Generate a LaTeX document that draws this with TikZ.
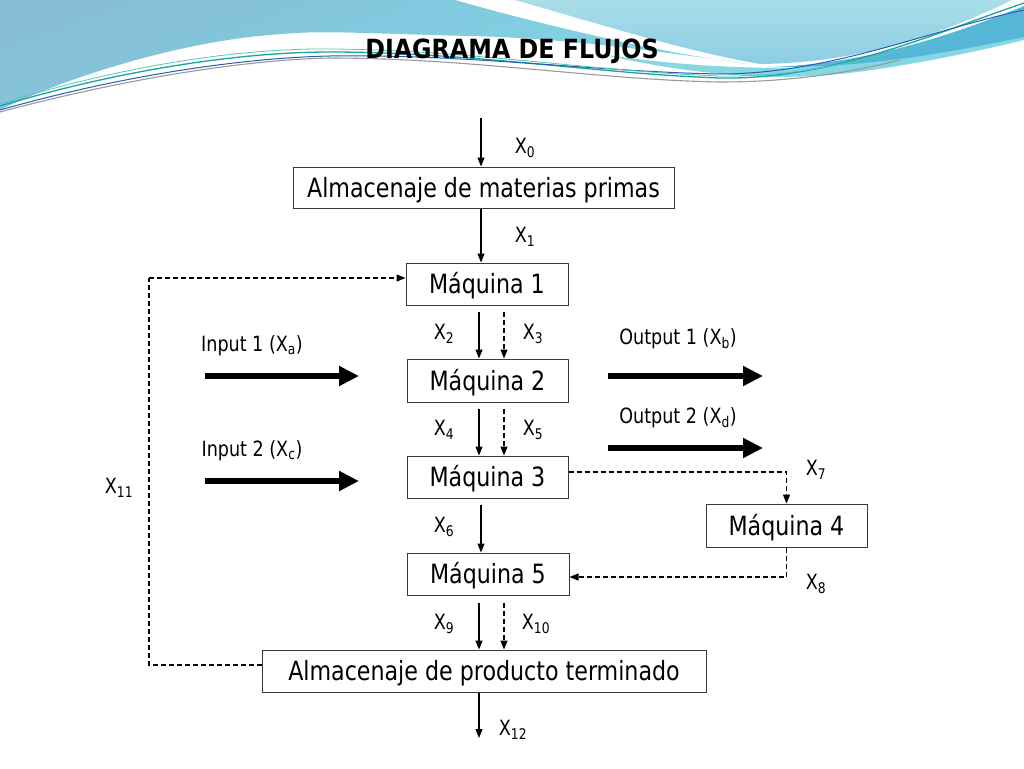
\documentclass[tikz,border=0pt]{standalone}
\usepackage{fontspec}
\setmainfont{DejaVu Sans Condensed}[FakeStretch=0.93]
\newfontfamily\titlef{DejaVu Sans Condensed}
\usetikzlibrary{arrows.meta,calc}
\definecolor{bannerA}{HTML}{86BED7}
\definecolor{bannerAl}{HTML}{7ED8E8}
\definecolor{bannerC}{HTML}{A9DEE7}
\definecolor{bannerCd}{HTML}{8CCDE6}
\definecolor{bannerF}{HTML}{55B6D8}
\definecolor{bannerFl}{HTML}{86D6E4}
\definecolor{lteal}{HTML}{16A89C}
\definecolor{lblue}{HTML}{2A5DB0}
\definecolor{lgray}{HTML}{9A9A9A}
\definecolor{boxline}{HTML}{3A3A3A}
\tikzset{
  box/.style={draw=boxline,line width=1pt,inner sep=0pt,text height=19.5pt,text depth=0pt,font=\fontsize{26.5}{30}\selectfont,text=black},
  xlab/.style={inner sep=0pt,font=\fontsize{21}{24}\selectfont},
  iolab/.style={inner sep=0pt,font=\fontsize{21}{24}\selectfont},
  flow/.style={line width=1.2pt,-{Triangle[length=9pt,width=7pt]}},
  dashline/.style={line width=1.2pt,dash pattern=on 5pt off 3pt},
  dflow/.style={dashline,-{Triangle[length=9pt,width=7pt]}},
  big/.style={line width=6pt,-{Triangle[length=20pt,width=19pt]}},
  titlefont/.style={inner sep=0pt,font=\titlef\fontsize{26.4}{30}\selectfont\bfseries}
}
\newcommand{\Xs}[1]{X\textsubscript{#1}}
\begin{document}
\begin{tikzpicture}[x=1pt,y=-1pt]
\useasboundingbox (0,0) rectangle (1024,768);
\fill[white] (0,0) rectangle (1024,768);
% ---- banner ----
\shade[top color=bannerA,bottom color=bannerAl,shading angle=20]
  (0,0) -- (455,0) .. controls (560,30) and (680,56) .. (748,64)
  .. controls (650,50) and (560,38) .. (470,36)
  .. controls (380,34) and (320,30) .. (283,34)
  .. controls (180,40) and (60,80) .. (0,110) -- cycle;
\shade[top color=bannerC,bottom color=bannerCd]
  (515,0) -- (1012,0) .. controls (930,40) and (850,63) .. (760,64)
  .. controls (680,50) and (600,24) .. (515,0) -- cycle;
\fill[bannerFl]
  (600,54) .. controls (680,66) and (740,68) .. (790,68)
  .. controls (870,60) and (950,45) .. (1024,30) -- (1024,40)
  .. controls (950,58) and (880,70) .. (840,74)
  .. controls (760,82) and (680,72) .. (600,54) -- cycle;
\fill[bannerF]
  (1024,6) .. controls (940,40) and (860,64) .. (770,67)
  .. controls (870,68) and (950,52) .. (1024,37) -- cycle;
\draw[lteal,line width=1.3pt]
  (0,106) .. controls (120,70) and (240,52) .. (330,52)
  .. controls (470,52) and (600,74) .. (720,78)
  .. controls (830,80) and (930,35) .. (1024,3);
\draw[lblue,line width=1pt]
  (0,110) .. controls (120,76) and (240,58) .. (330,56)
  .. controls (470,54) and (600,72) .. (720,74)
  .. controls (830,74) and (930,30) .. (1024,10);
\draw[lteal!70!white,line width=0.8pt]
  (0,104) .. controls (120,66) and (240,48) .. (330,49)
  .. controls (470,50) and (600,72) .. (720,76)
  .. controls (830,78) and (930,40) .. (1024,18);
\draw[lgray,line width=1.1pt]
  (0,112) .. controls (120,80) and (240,60) .. (330,58)
  .. controls (470,58) and (600,80) .. (720,82)
  .. controls (800,82) and (860,70) .. (900,60);
% ---- title ----
\node[titlefont] (title) at (512,51) {DIAGRAMA DE FLUJOS};
% ---- boxes ----
\node[box,minimum width=381pt,minimum height=41pt] (A1) at (483.5,187.5) {Almacenaje de materias primas};
\node[box,minimum width=162pt,minimum height=42pt] (M1) at (487,284) {Máquina 1};
\node[box,minimum width=161pt,minimum height=43pt] (M2) at (487.5,380.5) {Máquina 2};
\node[box,minimum width=161pt,minimum height=42pt] (M3) at (487.5,477) {Máquina 3};
\node[box,minimum width=161pt,minimum height=43pt] (M4) at (786.5,525.5) {Máquina 4};
\node[box,minimum width=162pt,minimum height=42pt] (M5) at (488,574) {Máquina 5};
\node[box,minimum width=444pt,minimum height=42pt] (A2) at (484,671) {Almacenaje de producto terminado};
% ---- columns ----
\coordinate (cA) at (481,0);
\coordinate (cS) at (479,0);
\coordinate (cD) at (504,0);
\coordinate (in0) at (481,118);
\coordinate (out12) at (479,738);
\coordinate (fb) at (149,278);
% ---- vertical flows ----
\draw[flow] (in0) -- (cA |- A1.north);
\draw[flow] (cA |- A1.south) -- (cA |- M1.north);
\draw[flow] ($(cS |- M1.south)+(0,6)$) -- (cS |- M2.north);
\draw[dflow] ($(cD |- M1.south)+(0,6)$) -- (cD |- M2.north);
\draw[flow] ($(cS |- M2.south)+(0,6)$) -- (cS |- M3.north);
\draw[dflow] ($(cD |- M2.south)+(0,6)$) -- (cD |- M3.north);
\draw[flow] ($(cA |- M3.south)+(0,6)$) -- (cA |- M5.north);
\draw[flow] ($(cS |- M5.south)+(0,7)$) -- (cS |- A2.north);
\draw[dflow] ($(cD |- M5.south)+(0,7)$) -- (cD |- A2.north);
\draw[flow] (cS |- A2.south) -- (out12);
% ---- side dashed flows ----
\draw[dflow] ([yshift=5pt]M3.east) -| (M4.north);
\draw[dflow] (M4.south) |- ([yshift=-3pt]M5.east);
\draw[dashline] ([yshift=6pt]A2.west) -| (fb);
\draw[dflow] (fb) -- ([yshift=6pt]M1.west);
% ---- thick arrows ----
\coordinate (i1s) at (205,376); \coordinate (i1e) at (359,376);
\coordinate (i2s) at (205,481); \coordinate (i2e) at (359,481);
\coordinate (o1s) at (608,376); \coordinate (o1e) at (763,376);
\coordinate (o2s) at (608,448); \coordinate (o2e) at (763,448);
\draw[big] (i1s) -- (i1e);
\draw[big] (i2s) -- (i2e);
\draw[big] (o1s) -- (o1e);
\draw[big] (o2s) -- (o2e);
% ---- labels ----
\node[xlab] (l0) at (525,148) {\Xs{0}};
\node[xlab] (l1) at (525,237) {\Xs{1}};
\node[xlab] (l2) at (444,334) {\Xs{2}};
\node[xlab] (l3) at (533,334) {\Xs{3}};
\node[xlab] (l4) at (444,430) {\Xs{4}};
\node[xlab] (l5) at (533,430) {\Xs{5}};
\node[xlab] (l6) at (444,527) {\Xs{6}};
\node[xlab] (l7) at (816,470) {\Xs{7}};
\node[xlab] (l8) at (816,584) {\Xs{8}};
\node[xlab] (l9) at (444,624) {\Xs{9}};
\node[xlab] (l10) at (536,624) {\Xs{10}};
\node[xlab] (l11) at (119,488) {\Xs{11}};
\node[xlab] (l12) at (513,730) {\Xs{12}};
\node[iolab] (ti1) at (252,346) {Input 1 (\Xs{a})};
\node[iolab] (ti2) at (252,451) {Input 2 (\Xs{c})};
\node[iolab] (to1) at (678,339) {Output 1 (\Xs{b})};
\node[iolab] (to2) at (678,418) {Output 2 (\Xs{d})};
\end{tikzpicture}
\end{document}
